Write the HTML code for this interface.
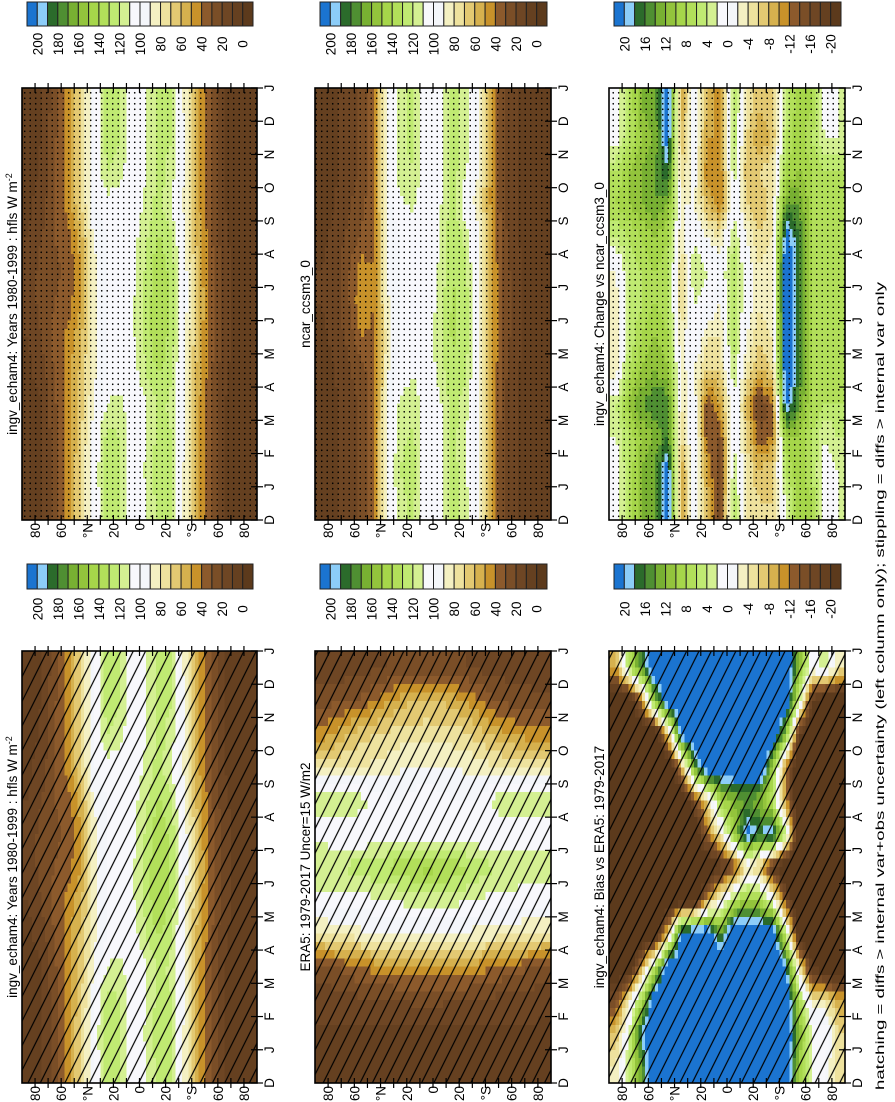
<!DOCTYPE html>
<html><head><meta charset="utf-8"><title>hfls zonal mean annual cycle</title>
<style>
html,body{margin:0;padding:0;background:#fff;}
svg{display:block;}
text{font-family:"Liberation Sans",Arial,sans-serif;fill:#000;}
</style></head>
<body>
<svg id="fig" width="895" height="1102" xmlns="http://www.w3.org/2000/svg">
<g id="root" transform="translate(0,1102) rotate(-90)">
<defs>
<pattern id="dots" patternUnits="userSpaceOnUse" width="5.5" height="5.5"><circle cx="2.7" cy="2.7" r="0.85" fill="#000"/></pattern>
<pattern id="hatch" patternUnits="userSpaceOnUse" width="11" height="11" patternTransform="rotate(26.57)"><line x1="0" y1="5.5" x2="11" y2="5.5" stroke="#000" stroke-width="1.2"/></pattern>
</defs>
</g>
</svg>
<script>
// ---------- DATA ----------
const months = ["D","J","F","M","A","M","J","J","A","S","O","N","D","J"];
const latTickValues = [80,60,40,20,0,-20,-40,-60,-80];
const latTickLabels = ["80","60","°N","20","0","20","°S","60","80"];
const latCenters = [85,75,65,55,45,35,25,15,5,-5,-15,-25,-35,-45,-55,-65,-75,-85];
const hflsTicks = [200,180,160,140,120,100,80,60,40,20,0];
const diffTicks = [20,16,12,8,4,0,-4,-8,-12,-16,-20];

// rows = latitude bands (85N..85S), columns = months D,J,...,D
const ingvClim = [
[5,5,5,5,8,10,12,12,10,8,5,5,5],
[10,10,10,10,15,20,25,25,20,15,12,10,10],
[25,25,25,28,30,35,30,28,30,30,30,28,25],
[45,45,45,45,45,42,35,32,35,45,45,45,45],
[70,70,68,65,62,58,50,48,55,70,72,70,70],
[100,100,98,90,88,85,85,85,92,100,100,100,100],
[125,128,125,110,100,100,100,100,100,105,120,125,125],
[120,122,120,115,102,100,104,106,102,100,115,120,120],
[100,100,100,100,105,108,108,108,106,102,100,100,100],
[110,112,110,108,120,125,125,122,118,112,110,110,110],
[125,128,125,122,132,140,140,138,132,125,125,125,125],
[120,122,120,118,120,125,128,125,120,108,115,120,120],
[85,85,88,88,90,92,95,95,90,85,88,88,85],
[50,50,50,52,55,58,60,58,55,52,50,50,50],
[30,30,30,30,32,35,35,35,32,30,30,30,30],
[10,10,10,10,12,15,15,15,12,10,10,10,10],
[5,5,5,5,5,5,5,5,5,5,5,5,5],
[0,0,0,0,0,0,0,0,0,0,0,0,0]];

const era5Clim = [
[5,8,15,25,80,105,120,105,118,75,45,25,12],
[5,8,15,30,82,105,122,102,120,78,50,28,12],
[5,8,15,35,85,105,122,100,118,80,60,30,15],
[5,8,18,40,88,105,125,100,115,80,65,32,15],
[5,8,18,45,88,108,128,100,108,82,70,40,18],
[5,8,20,45,88,110,132,100,102,85,72,48,20],
[5,8,20,48,90,112,136,100,100,88,75,55,20],
[5,8,22,50,90,115,140,100,104,92,75,60,22],
[5,8,22,50,90,115,145,100,108,92,75,62,22],
[5,8,22,50,90,115,142,100,104,92,75,60,22],
[5,8,20,48,88,115,138,100,100,90,74,55,20],
[5,8,20,48,88,112,132,100,100,88,72,50,20],
[5,8,18,45,86,110,126,100,102,85,65,42,18],
[5,8,18,42,86,105,122,100,112,82,58,32,15],
[5,8,15,38,84,104,120,102,118,80,50,28,15],
[5,8,15,35,82,104,120,104,120,78,48,25,12],
[5,8,15,30,80,104,118,104,118,76,45,25,12],
[5,8,12,28,78,104,118,104,116,75,45,22,10]];

const ncarClim = [
[5,5,5,5,5,8,10,10,8,5,5,5,5],
[8,8,8,8,10,12,15,15,12,10,8,8,8],
[15,15,15,15,18,22,28,28,22,18,15,15,15],
[22,22,22,22,25,40,48,45,32,25,22,22,22],
[40,40,40,40,35,38,40,40,38,40,40,40,40],
[95,95,95,92,88,85,88,90,92,95,95,95,95],
[118,120,118,112,104,100,100,100,100,108,118,118,118],
[122,125,122,118,108,100,100,100,102,112,120,122,122],
[100,100,100,100,100,102,100,100,100,100,100,100,100],
[105,105,105,108,115,118,115,112,110,108,105,105,105],
[125,125,125,125,128,132,132,130,128,125,125,125,125],
[115,112,110,115,122,125,125,122,118,100,112,115,115],
[88,88,90,90,92,95,95,92,90,82,88,90,88],
[45,45,45,48,50,52,52,50,48,45,45,45,45],
[20,20,20,20,22,25,25,25,22,20,20,20,20],
[10,10,10,10,10,12,12,12,10,10,10,10,10],
[5,5,5,5,5,5,5,5,5,5,5,5,5],
[0,0,0,0,0,0,0,0,0,0,0,0,0]];

// bias stored per month (D,J,...,D), each listing latitude bands 85N..85S
const biasByMonth = [
[-4,4,14,25,25,25,25,25,25,25,25,25,25,25,10,2,0,-6],
[-8,2,20,25,25,25,25,25,25,25,25,25,25,25,12,2,2,-6],
[-16,-4,8,25,25,25,25,25,25,25,25,25,25,25,8,-4,-4,-10],
[-25,-25,-10,6,25,25,25,25,25,25,25,25,25,20,-4,-20,-25,-25],
[-25,-25,-25,-25,-8,22,25,25,14,25,25,25,25,4,-25,-25,-25,-25],
[-25,-25,-25,-25,-25,-25,-25,-10,-2,6,10,8,0,-16,-25,-25,-25,-25],
[-25,-25,-25,-25,-25,-25,-25,-25,-20,-16,-4,-8,-20,-25,-25,-25,-25,-25],
[-25,-25,-25,-25,-25,-25,-25,-12,-4,10,22,18,22,4,-25,-25,-25,-25],
[-25,-25,-25,-25,-25,-25,-16,-6,8,12,14,12,6,-12,-25,-25,-25,-25],
[-25,-25,-25,-25,-25,-10,14,25,25,25,25,25,10,-12,-25,-25,-25,-25],
[-25,-25,-25,-25,-8,22,25,25,25,25,25,25,25,12,-20,-25,-25,-25],
[-25,-25,-12,12,25,25,25,25,25,25,25,25,25,25,4,-20,-25,-25],
[-10,6,16,25,25,25,25,25,25,25,25,25,25,25,12,0,4,-4]];

const changeClim = [
[0,0,2,4,-4,-4,-4,-2,4,8,6,0,0],
[6,6,6,10,6,4,4,4,6,10,10,6,6],
[12,12,10,14,10,8,6,6,8,12,12,10,12],
[14,14,12,16,12,10,8,8,10,14,14,12,14],
[22,22,16,16,10,8,6,6,8,12,18,22,22],
[-10,-10,-6,-4,-2,-4,-6,-6,-4,-2,-6,-8,-10],
[0,0,2,0,-2,2,2,4,2,-2,0,0,0],
[-8,-10,-14,-14,-6,-4,0,2,-2,-8,-12,-10,-8],
[-16,-16,-14,-10,-6,-4,-2,0,-4,-12,-12,-10,-12],
[6,4,2,2,4,6,6,6,4,2,4,6,6],
[-4,-4,-6,-8,-4,-2,0,0,-2,-6,-8,-6,-4],
[-6,-8,-14,-16,-8,-6,-4,-4,-6,-8,-6,-10,-8],
[-6,-6,-12,-12,-6,-4,-2,-2,-4,-4,-4,-8,-6],
[2,6,10,22,24,24,24,24,22,14,8,6,4],
[10,10,10,14,16,16,16,16,16,14,10,10,10],
[8,6,6,8,8,8,8,8,8,8,8,6,8],
[0,0,2,6,6,6,6,6,6,6,6,2,0],
[2,2,4,6,6,6,6,6,6,6,6,2,2]];

// ---------- RENDER ----------
const palette = ['#5c3a1c','#654020','#6e4624','#7a4e27','#8c5a2c','#c8922a','#d6b14e','#e3c972','#eee29e','#f4f0c2','#f4f6fa','#f8f8fc','#d4f092','#c0ea72','#b2df5a','#a6d64a','#93c43c','#78b032','#4f8f32','#2b6b2b','#8ccdf8','#1b74d0'];
function levelIndex(v, lo, step){
  let k = Math.floor((v - lo)/step) + 1;
  return Math.max(0, Math.min(21, k));
}
const NS = "http://www.w3.org/2000/svg";
const root = document.getElementById('root');
function mk(tag, attrs, parent){
  const e = document.createElementNS(NS, tag);
  for (const k in attrs) e.setAttribute(k, attrs[k]);
  (parent||root).appendChild(e);
  return e;
}
const transposed = biasByMonth[0].map((_, j) => biasByMonth.map(col => col[j]));

const colsU = [[19,451],[582,1014]];
const rowsV = [[22,257],[315,551],[609,845]];
const panels = [
 {c:0,r:0,data:ingvClim,lo:0,step:10,ov:'hatch',title:'ingv_echam4: Years 1980-1999 : hfls W m',sup:'-2',name:'ingv-climatology-hatched-panel'},
 {c:0,r:1,data:era5Clim,lo:0,step:10,ov:'hatch',title:'ERA5: 1979-2017 Uncer=15 W/m2',sup:'',name:'era5-climatology-panel'},
 {c:0,r:2,data:transposed,lo:-20,step:2,ov:'hatch',title:'ingv_echam4: Bias vs ERA5: 1979-2017',sup:'',name:'bias-vs-era5-panel'},
 {c:1,r:0,data:ingvClim,lo:0,step:10,ov:'dots',title:'ingv_echam4: Years 1980-1999 : hfls W m',sup:'-2',name:'ingv-climatology-stippled-panel'},
 {c:1,r:1,data:ncarClim,lo:0,step:10,ov:'dots',title:'ncar_ccsm3_0',sup:'',name:'ncar-climatology-panel'},
 {c:1,r:2,data:changeClim,lo:-20,step:2,ov:'dots',title:'ingv_echam4: Change vs ncar_ccsm3_0',sup:'',name:'change-vs-ncar-panel'}
];

function sample(data, x, y){
  const nx = data[0].length, ny = data.length;
  x = Math.max(0, Math.min(nx-1, x)); y = Math.max(0, Math.min(ny-1, y));
  const x0 = Math.floor(x), y0 = Math.floor(y);
  const x1 = Math.min(nx-1, x0+1), y1 = Math.min(ny-1, y0+1);
  const fx = x-x0, fy = y-y0;
  return data[y0][x0]*(1-fx)*(1-fy)+data[y0][x1]*fx*(1-fy)+data[y1][x0]*(1-fx)*fy+data[y1][x1]*fx*fy;
}

panels.forEach(p => {
  const [u0,u1] = colsU[p.c], [v0,v1] = rowsV[p.r];
  const g = mk('g', {});
  
  
  const nm = p.data[0].length, nl = p.data.length, sub = 4;
  const xScale = m => u0 + m*(u1-u0)/nm;
  const yScale = lat => v0 + (90-lat)*(v1-v0)/180;
  const cw = (u1-u0)/(nm*sub), ch = (v1-v0)/(nl*sub);
  for (let i=0;i<nm*sub;i++){
    for (let j=0;j<nl*sub;j++){
      const xi = (i+0.5)/sub - 0.5, yj = (j+0.5)/sub - 0.5;
      const v = sample(p.data, xi, yj);
      const cell = mk('rect', {x:xScale((i)/sub).toFixed(2), y:yScale(90-(j)*180/(nl*sub)).toFixed(2), width:(cw+0.6).toFixed(2), height:(ch+0.6).toFixed(2), fill:palette[levelIndex(v,p.lo,p.step)], 'shape-rendering':'crispEdges'}, g);
      
      
    }
  }
  const ov = mk('rect', {x:u0,y:v0,width:u1-u0,height:v1-v0,fill:'url(#'+p.ov+')'}, g);
  
  
  const fr = mk('rect', {x:u0,y:v0,width:u1-u0,height:v1-v0,fill:'none',stroke:'#000','stroke-width':1.6}, g);
  
  
  for (let lat=-80; lat<=80; lat+=10){
    const y = yScale(lat);
    mk('line',{x1:u0-5,y1:y,x2:u0+5,y2:y,stroke:'#000','stroke-width':1.2},g);
    mk('line',{x1:u1-5,y1:y,x2:u1+5,y2:y,stroke:'#000','stroke-width':1.2},g);
  }
  latTickValues.forEach((lat,k) => {
    const t = mk('text',{x:u0-3,y:yScale(lat)+5,'text-anchor':'end','font-size':13.5},g);
    t.textContent = latTickLabels[k];
    
    
  });
  months.forEach((m,k) => {
    const x = xScale(k);
    mk('line',{x1:x,y1:v1-6,x2:x,y2:v1+6,stroke:'#000','stroke-width':1.2},g);
    const t = mk('text',{x:x,y:v1+17,'text-anchor':'middle','font-size':13.5},g);
    t.textContent = m;
    
    
  });
  const tt = mk('text',{x:(u0+u1)/2,y:v0-5,'text-anchor':'middle','font-size':13.5},g);
  tt.textContent = p.title;
  if (p.sup){ const s = mk('tspan',{dy:-5,'font-size':9},tt); s.textContent = p.sup; }
  
  
});

const cbU = [[513,538],[1076,1100]], cbLabelU = [493,1058];
for (let c=0;c<2;c++){
  for (let r=0;r<3;r++){
    const [v0,v1] = [rowsV[r][0]+5, rowsV[r][1]-4];
    const g = mk('g',{});
    
    
    const h = (v1-v0)/22;
    for (let k=0;k<22;k++){
      const b = mk('rect',{x:cbU[c][0],y:v0+k*h,width:cbU[c][1]-cbU[c][0],height:h,fill:palette[21-k],stroke:'#222','stroke-width':1},g);
      
      
    }
    const ticks = r===2 ? diffTicks : hflsTicks;
    ticks.forEach((val,k) => {
      const t = mk('text',{x:cbLabelU[c],y:v0+(1+2*k)*h+5,'text-anchor':'middle','font-size':13.5},g);
      t.textContent = String(val);
      
      
    });
  }
}
const foot = mk('text',{x:12,y:884,'font-size':12,textLength:808,lengthAdjust:'spacingAndGlyphs'});
foot.textContent = 'hatching = diffs > internal var+obs uncertainty (left column only); stippling = diffs > internal var only';


</script>
</body></html>
